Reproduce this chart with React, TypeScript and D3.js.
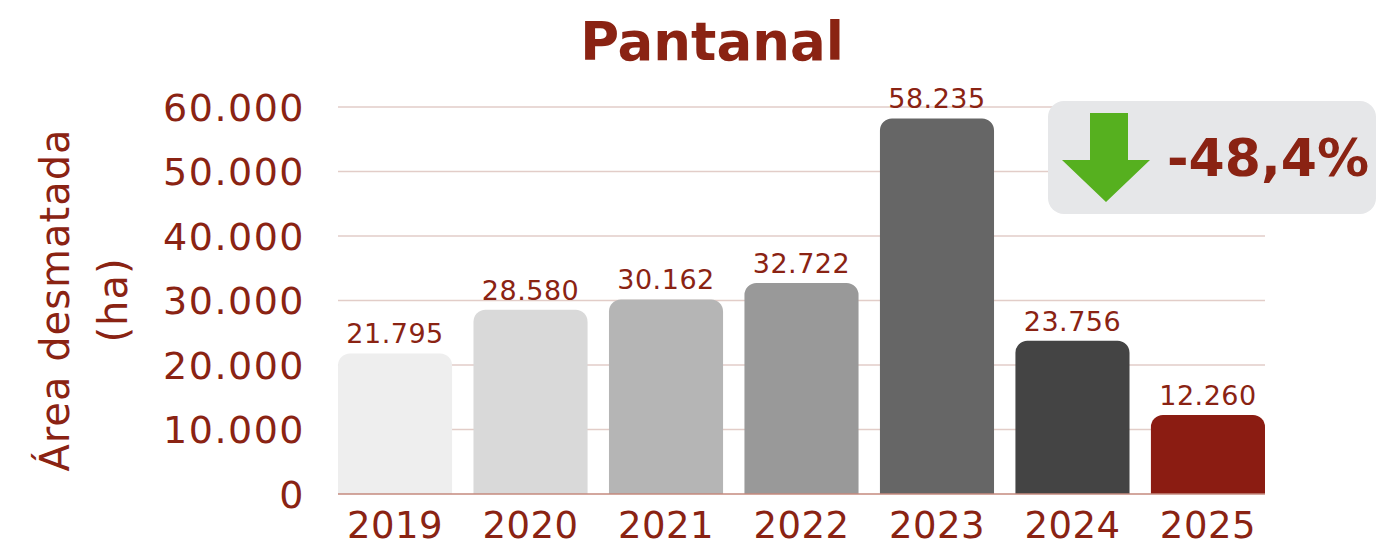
import React, { useRef, useEffect } from 'react';
import * as d3 from 'd3';

const years = ['2019', '2020', '2021', '2022', '2023', '2024', '2025'];
const areas = [21795, 28580, 30162, 32722, 58235, 23756, 12260];
const barColors = ['#eeeeee', '#d9d9d9', '#b5b5b5', '#999999', '#666666', '#444444', '#8b1c12'];
const yTicks = [0, 10000, 20000, 30000, 40000, 50000, 60000];
const changeLabel = '-48,4%';

const TEXT = '#8a2313';
const FONT = '"DejaVu Sans", sans-serif';

const fmt = (v: number) => d3.format(',')(v).replace(/,/g, '.');

const App = () => {
  const svgRef = useRef<SVGSVGElement>(null);

  useEffect(() => {
    const width = 1399;
    const height = 547;
    const svg = d3.select(svgRef.current).attr('width', width).attr('height', height);
    svg.selectAll('*').remove();

    const x = d3.scaleBand().domain(years).range([338, 1265]).paddingInner(0.158).paddingOuter(0);
    const y = d3.scaleLinear().domain([0, 60000]).range([494, 107]);

    // title
    svg.append('text')
      .attr('x', 712).attr('y', 60)
      .attr('text-anchor', 'middle')
      .style('font-family', FONT).style('font-weight', 'bold').style('font-size', '53px')
      .style('fill', TEXT)
      .text('Pantanal');

    // gridlines
    svg.append('g').selectAll('line')
      .data(yTicks.filter(d => d > 0))
      .enter().append('line')
      .attr('x1', 338).attr('x2', 1265)
      .attr('y1', d => y(d)).attr('y2', d => y(d))
      .attr('stroke', '#e2cdc8').attr('stroke-width', 1.5);

    // y tick labels
    svg.append('g').selectAll('text')
      .data(yTicks)
      .enter().append('text')
      .attr('x', 305).attr('y', d => y(d))
      .attr('dy', '0.36em')
      .attr('text-anchor', 'end')
      .style('font-family', FONT).style('font-size', '38px')
      .style('letter-spacing', '1.5px')
      .style('fill', TEXT)
      .text(d => fmt(d));

    // y axis title
    const yt = svg.append('text')
      .attr('transform', 'translate(55,300) rotate(-90)')
      .attr('text-anchor', 'middle')
      .style('font-family', FONT).style('font-size', '40px')
      .style('letter-spacing', '1px')
      .style('fill', TEXT);
    yt.append('tspan').attr('x', 0).attr('dy', '0.36em').text('Área desmatada');
    yt.append('tspan').attr('x', 0).attr('dy', '1.45em').text('(ha)');

    // bars with rounded top corners
    const r = 12;
    const bw = x.bandwidth();
    svg.append('g').selectAll('path')
      .data(areas)
      .enter().append('path')
      .attr('d', (d, i) => {
        const x0 = x(years[i]) as number;
        const y0 = y(d);
        const y1 = y(0);
        const p = d3.path();
        p.moveTo(x0, y1);
        p.lineTo(x0, y0 + r);
        p.arcTo(x0, y0, x0 + r, y0, r);
        p.lineTo(x0 + bw - r, y0);
        p.arcTo(x0 + bw, y0, x0 + bw, y0 + r, r);
        p.lineTo(x0 + bw, y1);
        p.closePath();
        return p.toString();
      })
      .attr('fill', (d, i) => barColors[i]);

    // baseline
    svg.append('line')
      .attr('x1', 338).attr('x2', 1265)
      .attr('y1', y(0)).attr('y2', y(0))
      .attr('stroke', '#c58a7e').attr('stroke-width', 1.5);

    // value labels
    svg.append('g').selectAll('text')
      .data(areas)
      .enter().append('text')
      .attr('x', (d, i) => (x(years[i]) as number) + bw / 2)
      .attr('y', d => y(d) - 10)
      .attr('text-anchor', 'middle')
      .style('font-family', FONT).style('font-size', '27px')
      .style('letter-spacing', '0.5px')
      .style('fill', TEXT)
      .text(d => fmt(d));

    // x labels
    svg.append('g').selectAll('text')
      .data(years)
      .enter().append('text')
      .attr('x', d => (x(d) as number) + bw / 2)
      .attr('y', 538)
      .attr('text-anchor', 'middle')
      .style('font-family', FONT).style('font-size', '37px')
      .style('letter-spacing', '0.5px')
      .style('fill', TEXT)
      .text(d => d);

    // change badge
    const badge = svg.append('g');
    badge.append('rect')
      .attr('x', 1048).attr('y', 101).attr('width', 328).attr('height', 113)
      .attr('rx', 16).attr('fill', '#e6e7e9');
    badge.append('path')
      .attr('d', 'M1090,113 L1128,113 L1128,160 L1150,160 L1106,202 L1062,160 L1090,160 Z')
      .attr('fill', '#56b01f');
    badge.append('text')
      .attr('x', 1268).attr('y', 176)
      .attr('text-anchor', 'middle')
      .style('font-family', FONT).style('font-weight', 'bold').style('font-size', '52px')
      .style('fill', TEXT)
      .text(changeLabel);
  }, []);

  return <svg ref={svgRef} style={{ position: 'absolute', left: 0, top: 0 }}></svg>;
};

export default App;
